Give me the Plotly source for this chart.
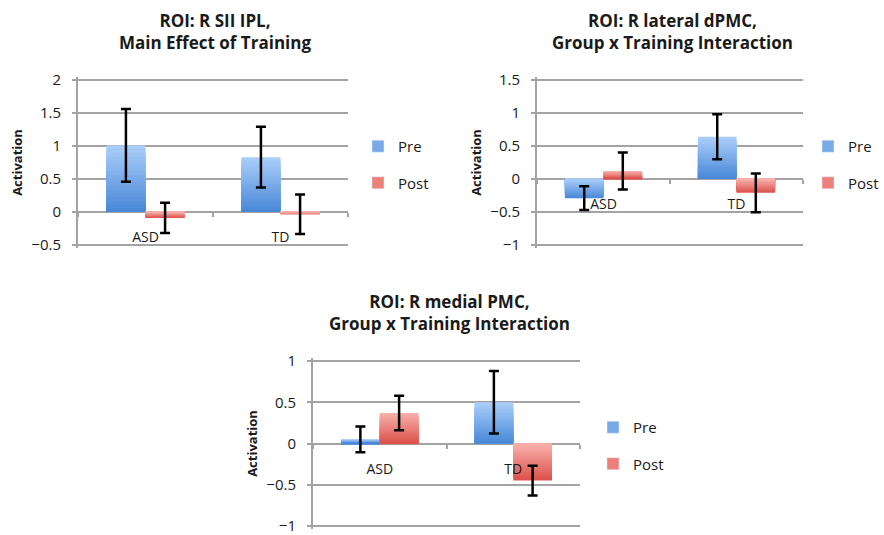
import plotly.graph_objects as go

# ---------------- data ----------------
categories = ["ASD", "TD"]
series_names = ["Pre", "Post"]

titles = [
    "ROI: R SII IPL,<br>Main Effect of Training",
    "ROI: R lateral dPMC,<br>Group x Training Interaction",
    "ROI: R medial PMC,<br>Group x Training Interaction",
]

sii_pre = [1.01, 0.83]
sii_pre_err = [0.55, 0.46]
sii_post = [-0.09, -0.035]
sii_post_err = [0.23, 0.30]

ldpmc_pre = [-0.29, 0.64]
ldpmc_pre_err = [0.18, 0.34]
ldpmc_post = [0.12, -0.21]
ldpmc_post_err = [0.28, 0.295]

mpmc_pre = [0.05, 0.50]
mpmc_pre_err = [0.155, 0.38]
mpmc_post = [0.37, -0.45]
mpmc_post_err = [0.21, 0.18]

y_ranges = [(-0.5, 2.0), (-1.0, 1.5), (-1.0, 1.0)]

# ---------------- layout constants (pixels) ----------------
W, H = 884, 535
FONT = "'Open Sans', Lato, sans-serif"
plot_px = [  # x0, x1, ytop, ybottom
    (78, 348, 80, 245),
    (537, 803, 80, 245),
    (313, 580, 361, 526),
]
title_px = [(215, 31.5), (672, 31.5), (449, 312.5)]
legend_px = [(358, 130), (808, 130), (593, 411)]

colors = {
    "Pre": ("#A9CDF9", "#4A89D8", "#78AAE8"),
    "Post": ("#F7AFAA", "#DE524D", "#EC817C"),
}
GRID = "#A3A3A3"
TXT = "#1a1a1a"
N_LAYERS = 18
EPS = 0.016  # small range padding so the end gridlines are not clipped


def lerp(c1, c2, t):
    a = [int(c1[i:i + 2], 16) for i in (1, 3, 5)]
    b = [int(c2[i:i + 2], 16) for i in (1, 3, 5)]
    return "rgb(%d,%d,%d)" % tuple(round(a[k] + (b[k] - a[k]) * t) for k in range(3))


charts = [
    (sii_pre, sii_pre_err, sii_post, sii_post_err),
    (ldpmc_pre, ldpmc_pre_err, ldpmc_post, ldpmc_post_err),
    (mpmc_pre, mpmc_pre_err, mpmc_post, mpmc_post_err),
]

fig = go.Figure()
layout = dict(
    width=W, height=H, autosize=False,
    margin=dict(l=0, r=0, t=0, b=0, pad=0, autoexpand=False),
    paper_bgcolor="white", plot_bgcolor="white",
    barmode="group", bargap=0.42, bargroupgap=0.0,
    font=dict(family=FONT, size=15, color=TXT),
    annotations=[],
)

for i, (pre, pre_e, post, post_e) in enumerate(charts):
    sfx = "" if i == 0 else str(i + 1)
    xa, ya = "x" + sfx, "y" + sfx
    leg = "legend" if i == 0 else "legend" + str(i + 1)
    x0, x1, yt, yb = plot_px[i]
    lo, hi = y_ranges[i]
    span = hi - lo
    lo_p, hi_p = lo - EPS * span, hi + EPS * span
    # keep the tick values at the measured pixel rows after padding
    pad_px = EPS * (yb - yt)
    dom_x = [x0 / W, x1 / W]
    dom_y = [1 - (yb + pad_px) / H, 1 - (yt - pad_px) / H]
    zero_pos = dom_y[0] + (0 - lo_p) / (hi_p - lo_p) * (dom_y[1] - dom_y[0])

    for sname, vals, errs in (("Pre", pre, pre_e), ("Post", post, post_e)):
        light, dark, mid = colors[sname]
        # legend entry
        fig.add_trace(go.Bar(
            x=categories, y=[None, None], name=sname, marker_color=mid,
            offsetgroup=sname, legendgroup=sname, legend=leg,
            xaxis=xa, yaxis=ya, showlegend=True, hoverinfo="skip",
        ))
        # gradient layers (vertical light-to-dark fill of each bar)
        for k in range(N_LAYERS):
            f = 1 - k / N_LAYERS
            t = k / (N_LAYERS - 1)
            cols = [lerp(light, dark, t) if v >= 0 else lerp(dark, light, t) for v in vals]
            fig.add_trace(go.Bar(
                x=categories, y=[v * f for v in vals], marker=dict(color=cols, line=dict(width=0)),
                offsetgroup=sname, legendgroup=sname, showlegend=False,
                xaxis=xa, yaxis=ya, hoverinfo="skip",
            ))
        # error bars on top
        fig.add_trace(go.Bar(
            x=categories, y=vals, name=sname,
            marker=dict(color="rgba(0,0,0,0)", line=dict(width=0)),
            error_y=dict(type="data", array=errs, visible=True, color="black", thickness=2.5, width=5),
            offsetgroup=sname, legendgroup=sname, showlegend=False,
            xaxis=xa, yaxis=ya,
        ))

    layout["xaxis" + sfx] = dict(
        domain=dom_x, anchor="free", position=zero_pos, type="category",
        range=[-0.5, 1.5], showgrid=False, zeroline=False, showline=False,
        ticks="outside", tickson="boundaries", ticklen=4, tickwidth=2, tickcolor=GRID,
        ticklabelstandoff=15, tickfont=dict(size=14, color=TXT),
        automargin=False, fixedrange=True,
    )
    layout["yaxis" + sfx] = dict(
        domain=dom_y, anchor=xa, range=[lo_p, hi_p],
        tickmode="linear", dtick=0.5, tick0=0,
        showgrid=True, gridcolor=GRID, gridwidth=2, zeroline=False,
        showline=True, linecolor=GRID, linewidth=2,
        ticks="outside", ticklen=4, tickwidth=2, tickcolor=GRID,
        ticklabelstandoff=8, tickfont=dict(size=15, color=TXT),
        ticklabeloverflow="allow",
        title=dict(text="<b>Activation</b>", font=dict(size=13, color=TXT), standoff=6),
        automargin=False, fixedrange=True,
    )
    lx, ly = legend_px[i]
    layout[leg] = dict(
        x=lx / W, y=1 - ly / H, xanchor="left", yanchor="top",
        traceorder="grouped", tracegroupgap=14, itemwidth=30,
        font=dict(size=15, color=TXT), bgcolor="rgba(0,0,0,0)",
    )
    tx, ty = title_px[i]
    layout["annotations"].append(dict(
        text="<b>" + titles[i] + "</b>", x=tx / W, y=1 - ty / H,
        xref="paper", yref="paper", xanchor="center", yanchor="middle",
        showarrow=False, font=dict(size=17, color=TXT),
    ))

fig.update_layout(**layout)
fig.write_html("out.html", config={"displayModeBar": False},
               post_script="document.body.style.margin='0';")
